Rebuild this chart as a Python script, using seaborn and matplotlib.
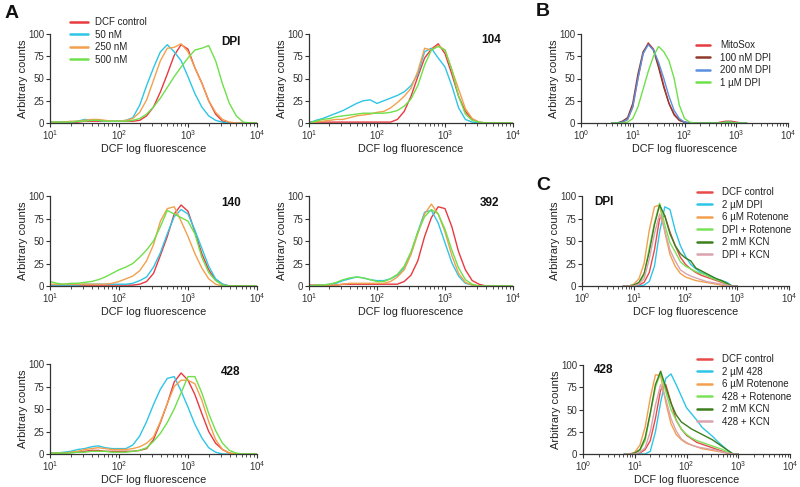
import numpy as np
import pandas as pd
import matplotlib
matplotlib.use("Agg")
import matplotlib.pyplot as plt
import seaborn as sns
from matplotlib.lines import Line2D

# ---- data (log10 of fluorescence grid, counts) ----
LOG_A = [1.0, 1.1, 1.2, 1.3, 1.4, 1.5, 1.6, 1.7, 1.8, 1.9, 2.0, 2.1, 2.2, 2.3, 2.4, 2.5,
         2.6, 2.7, 2.8, 2.9, 3.0, 3.1, 3.2, 3.3, 3.4, 3.5, 3.6, 3.7, 3.8, 3.9, 4.0]
LOG_B = [0.6, 0.7, 0.8, 0.9, 1.0, 1.1, 1.2, 1.3, 1.4, 1.5, 1.6, 1.7, 1.8, 1.9, 2.0,
         2.1, 2.2, 2.3, 2.4, 2.5, 2.6, 2.7, 2.8, 2.9, 3.0, 3.1, 3.2]
LOG_C = [0.8, 0.9, 1.0, 1.1, 1.2, 1.3, 1.4, 1.5, 1.6, 1.7, 1.8, 1.9, 2.0, 2.1, 2.2,
         2.3, 2.4, 2.5, 2.6, 2.7, 2.8, 2.9, 3.0]

labels_a = ["DCF control", "50 nM", "250 nM", "500 nM"]
colors_a = ["#e8393f", "#2ec5e6", "#f2a04e", "#6ee04a"]

dpi_ctrl = [1, 1, 1, 1, 1, 2, 2, 2, 2, 2, 2, 2, 2, 3, 8, 18, 35, 55, 76, 88, 83, 62, 45, 25, 10, 2, 0.5, 0, 0, 0, 0]
dpi_50 = [1, 1, 1, 1, 2, 4, 3, 3, 2, 2, 2, 3, 6, 20, 42, 62, 80, 88, 80, 70, 52, 33, 18, 8, 3, 1, 0, 0, 0, 0, 0]
dpi_250 = [1, 1, 1, 2, 2, 3, 4, 4, 3, 2, 2, 3, 5, 12, 26, 48, 70, 84, 85, 89, 80, 62, 45, 25, 12, 4, 1, 0, 0, 0, 0]
dpi_500 = [1, 1, 1, 1, 2, 2, 3, 3, 2, 2, 2, 2, 3, 5, 10, 18, 28, 40, 52, 63, 73, 82, 84, 87, 70, 44, 22, 8, 1, 0, 0]

c104_ctrl = [1, 1, 1, 1, 1, 1, 1, 1, 1, 1, 1, 1, 1, 4, 13, 30, 52, 73, 83, 89, 78, 55, 30, 13, 4, 1, 0, 0, 0, 0, 0]
c104_50 = [0, 3, 5, 8, 11, 14, 18, 22, 25, 26, 22, 25, 28, 31, 35, 42, 55, 80, 84, 73, 63, 42, 17, 4, 1, 0, 0, 0, 0, 0, 0]
c104_250 = [0, 1, 2, 3, 4, 4, 6, 8, 9, 10, 12, 13, 17, 23, 30, 39, 58, 84, 82, 87, 82, 60, 38, 16, 5, 1, 0, 0, 0, 0, 0]
c104_500 = [0, 2, 4, 5, 7, 8, 9, 10, 11, 11, 11, 11, 12, 14, 19, 27, 42, 65, 82, 86, 82, 60, 30, 10, 3, 1, 0, 0, 0, 0, 0]

c140_ctrl = [1, 1, 1, 1, 1, 1, 1, 1, 1, 1, 1, 1, 1, 2, 5, 14, 34, 55, 80, 90, 83, 60, 36, 18, 7, 2, 0, 0, 0, 0, 0]
c140_50 = [1, 1, 1, 1, 1, 2, 2, 2, 2, 2, 2, 2, 3, 6, 10, 21, 37, 58, 77, 85, 80, 62, 42, 22, 8, 2, 0, 0, 0, 0, 0]
c140_250 = [2, 2, 2, 2, 2, 2, 2, 2, 2, 3, 5, 8, 11, 17, 28, 46, 72, 86, 88, 72, 55, 36, 20, 8, 2, 0, 0, 0, 0, 0, 0]
c140_500 = [5, 3, 2, 3, 3, 4, 5, 7, 10, 14, 18, 21, 25, 32, 40, 50, 66, 84, 80, 76, 72, 58, 32, 15, 6, 1, 0, 0, 0, 0, 0]

c392_ctrl = [1, 1, 1, 1, 1, 2, 2, 2, 2, 2, 2, 2, 2, 2, 5, 12, 28, 55, 76, 88, 86, 66, 38, 18, 6, 2, 0, 0, 0, 0, 0]
c392_50 = [0, 1, 1, 2, 3, 6, 8, 10, 9, 7, 6, 6, 8, 12, 20, 36, 60, 82, 84, 70, 48, 26, 11, 3, 1, 0, 0, 0, 0, 0, 0]
c392_250 = [0, 1, 1, 1, 1, 2, 3, 3, 3, 3, 3, 3, 5, 10, 18, 35, 58, 80, 91, 80, 60, 34, 14, 4, 1, 0, 0, 0, 0, 0, 0]
c392_500 = [0, 1, 1, 2, 4, 7, 9, 10, 9, 7, 5, 5, 8, 13, 22, 38, 60, 77, 85, 80, 63, 40, 20, 7, 2, 0, 0, 0, 0, 0, 0]

c428_ctrl = [1, 1, 1, 2, 2, 3, 4, 4, 3, 3, 3, 3, 3, 4, 6, 16, 35, 56, 80, 90, 82, 66, 45, 25, 12, 5, 1, 0, 0, 0, 0]
c428_50 = [1, 1, 2, 3, 5, 6, 8, 9, 7, 6, 6, 6, 10, 20, 36, 55, 72, 84, 86, 70, 52, 33, 18, 7, 2, 0, 0, 0, 0, 0, 0]
c428_250 = [1, 1, 1, 2, 3, 5, 6, 7, 6, 5, 5, 5, 6, 8, 12, 19, 36, 56, 75, 82, 82, 78, 60, 36, 16, 5, 1, 0, 0, 0, 0]
c428_500 = [1, 1, 1, 1, 2, 2, 3, 3, 3, 2, 2, 2, 3, 4, 7, 14, 23, 35, 50, 68, 86, 86, 68, 45, 26, 12, 4, 1, 0, 0, 0]

labels_b = ["MitoSox", "100 nM DPI", "200 nM DPI", "1 \u00b5M DPI"]
colors_b = ["#e8393f", "#8e3b2c", "#5b8fe0", "#6ee04a"]
b_mito = [0, 0, 1, 4, 18, 50, 78, 90, 83, 65, 42, 22, 10, 3, 1, 0, 0, 0, 0, 0, 0, 1, 2, 2, 1, 0, 0]
b_100 = [0, 0, 2, 6, 22, 55, 80, 89, 82, 62, 40, 22, 9, 3, 1, 0, 0, 0, 0, 0, 0, 0, 1, 1, 0, 0, 0]
b_200 = [0, 0, 1, 4, 18, 50, 78, 88, 82, 68, 50, 30, 14, 5, 1, 0, 0, 0, 0, 0, 0, 0, 1, 1, 0, 0, 0]
b_1u = [0, 0, 0, 1, 5, 18, 38, 58, 75, 86, 80, 70, 50, 20, 5, 1, 0, 0, 0, 0, 0, 0, 1, 1, 0, 0, 0]

colors_c = ["#e84a4a", "#2ec5e6", "#f2a04e", "#7be25a", "#3c7f1e", "#dba3ad"]
labels_c_dpi = ["DCF control", "2 \u00b5M DPI", "6 \u00b5M Rotenone", "DPI + Rotenone", "2 mM KCN", "DPI + KCN"]
labels_c_428 = ["DCF control", "2 \u00b5M 428", "6 \u00b5M Rotenone", "428 + Rotenone", "2 mM KCN", "428 + KCN"]

cd_ctrl = [0, 0, 0, 1, 4, 15, 40, 75, 78, 60, 45, 32, 24, 19, 15, 12, 10, 8, 6, 4, 2, 0, 0]
cd_dpi = [0, 0, 0, 0, 1, 5, 22, 60, 88, 85, 62, 45, 33, 24, 19, 15, 13, 10, 8, 6, 4, 0, 0]
cd_rot = [0, 0, 2, 8, 25, 62, 88, 90, 60, 35, 22, 14, 10, 8, 6, 5, 4, 3, 2, 1, 0, 0, 0]
cd_dpirot = [0, 0, 1, 3, 12, 42, 70, 92, 68, 48, 38, 27, 22, 19, 16, 14, 12, 9, 7, 5, 2, 0, 0]
cd_kcn = [0, 0, 1, 4, 14, 38, 68, 90, 78, 58, 45, 36, 31, 28, 20, 17, 14, 11, 8, 6, 3, 0, 0]
cd_dpikcn = [0, 0, 0, 2, 8, 30, 58, 80, 62, 40, 28, 18, 14, 11, 9, 7, 5, 4, 3, 2, 1, 0, 0]

c4_ctrl = [0, 0, 0, 1, 5, 15, 40, 72, 78, 58, 38, 28, 21, 17, 13, 11, 9, 7, 5, 3, 1, 0, 0]
c4_428 = [0, 0, 0, 0, 0, 3, 25, 58, 85, 90, 78, 65, 52, 45, 38, 30, 25, 20, 14, 9, 4, 0, 0]
c4_rot = [0, 0, 2, 10, 30, 63, 89, 88, 58, 34, 22, 16, 12, 10, 8, 6, 5, 4, 3, 2, 1, 0, 0]
c4_428rot = [0, 0, 1, 4, 15, 45, 75, 91, 70, 50, 38, 28, 22, 18, 15, 13, 11, 9, 7, 5, 2, 0, 0]
c4_kcn = [0, 0, 1, 5, 18, 46, 78, 93, 75, 57, 44, 36, 32, 28, 25, 22, 19, 16, 12, 8, 4, 0, 0]
c4_428kcn = [0, 0, 0, 2, 7, 25, 55, 78, 62, 40, 26, 17, 13, 10, 8, 7, 6, 5, 4, 2, 1, 0, 0]

sns.set_style("ticks")
plt.rcParams["font.family"] = ["Liberation Sans", "DejaVu Sans"]
plt.rcParams["mathtext.fontset"] = "custom"
plt.rcParams["mathtext.rm"] = "Liberation Sans"
plt.rcParams["mathtext.default"] = "regular"

W, H = 800, 487
fig = plt.figure(figsize=(W / 100, H / 100), dpi=100)


def box(l, t, r, b):
    return [l / W, 1 - b / H, (r - l) / W, (b - t) / H]


def panel(rect, grid, series, labels, colors, xlim, tag=None, tag_xy=None):
    ax = fig.add_axes(box(*rect))
    rows = []
    for lab, vals in zip(labels, series):
        for lg, v in zip(grid, vals):
            rows.append((10 ** lg, v, lab))
    df = pd.DataFrame(rows, columns=["fluor", "count", "cond"])
    sns.lineplot(data=df, x="fluor", y="count", hue="cond", hue_order=labels,
                 palette=colors, linewidth=1.0, legend=False, ax=ax)
    ax.set_xscale("log")
    ax.set_xlim(*xlim)
    ax.set_ylim(0, 100)
    ax.set_yticks([0, 25, 50, 75, 100])
    ax.set_xlabel("DCF log fluorescence", fontsize=7.8, color="#222", labelpad=1)
    ax.set_ylabel("Arbitrary counts", fontsize=8, color="#222", labelpad=0)
    ax.tick_params(axis="both", which="major", labelsize=7, length=3, width=0.8,
                   colors="#333", pad=1)
    ax.tick_params(axis="x", which="minor", length=2, width=0.6, colors="#333")
    for s in ["top", "right"]:
        ax.spines[s].set_visible(False)
    for s in ["left", "bottom"]:
        ax.spines[s].set_color("#333")
        ax.spines[s].set_linewidth(0.9)
    if tag:
        fig.text(tag_xy[0] / W, 1 - tag_xy[1] / H, tag, fontsize=8.5, fontweight="bold",
                 ha="center", va="center", color="#111")
    return ax


def legend(labels, colors, x, y, hl, pad):
    handles = [Line2D([], [], color=c, lw=1.8) for c in colors]
    fig.legend(handles, labels, loc="upper left", bbox_to_anchor=(x / W, 1 - y / H),
               frameon=False, fontsize=7, handlelength=hl, handletextpad=pad,
               labelspacing=0.26, borderpad=0, borderaxespad=0, labelcolor="#222")


panel((50, 34, 257, 123), LOG_A, [dpi_ctrl, dpi_50, dpi_250, dpi_500], labels_a, colors_a,
      (10, 1e4), "DPI", (231, 42))
panel((309, 34, 513, 123), LOG_A, [c104_ctrl, c104_50, c104_250, c104_500], labels_a, colors_a,
      (10, 1e4), "104", (491, 40))
panel((581, 34, 788, 123), LOG_B, [b_mito, b_100, b_200, b_1u], labels_b, colors_b, (1, 1e4))
panel((50, 196, 257, 286), LOG_A, [c140_ctrl, c140_50, c140_250, c140_500], labels_a, colors_a,
      (10, 1e4), "140", (231, 203))
panel((309, 196, 513, 286), LOG_A, [c392_ctrl, c392_50, c392_250, c392_500], labels_a, colors_a,
      (10, 1e4), "392", (490, 203))
panel((582, 196, 789, 286), LOG_C, [cd_ctrl, cd_dpi, cd_rot, cd_dpirot, cd_kcn, cd_dpikcn],
      labels_c_dpi, colors_c, (1, 1e4), "DPI", (604, 202))
panel((50, 364, 257, 454), LOG_A, [c428_ctrl, c428_50, c428_250, c428_500], labels_a, colors_a,
      (10, 1e4), "428", (231, 372))
panel((583, 365, 790, 454), LOG_C, [c4_ctrl, c4_428, c4_rot, c4_428rot, c4_kcn, c4_428kcn],
      labels_c_428, colors_c, (1, 1e4), "428", (604, 370))

legend(labels_a, colors_a, 70, 17, 1.85, 0.7)
legend(labels_b, colors_b, 696, 40, 1.45, 1.0)
legend(labels_c_dpi, colors_c, 697, 187, 1.55, 1.0)
legend(labels_c_428, colors_c, 697, 354, 1.55, 1.0)

for letter, (x, y) in {"A": (12, 13), "B": (543, 12), "C": (543, 185)}.items():
    fig.text(x / W, 1 - y / H, letter, fontsize=14, fontweight="bold", ha="center",
             va="center", color="#111")

fig.savefig("out.png", dpi=100)
